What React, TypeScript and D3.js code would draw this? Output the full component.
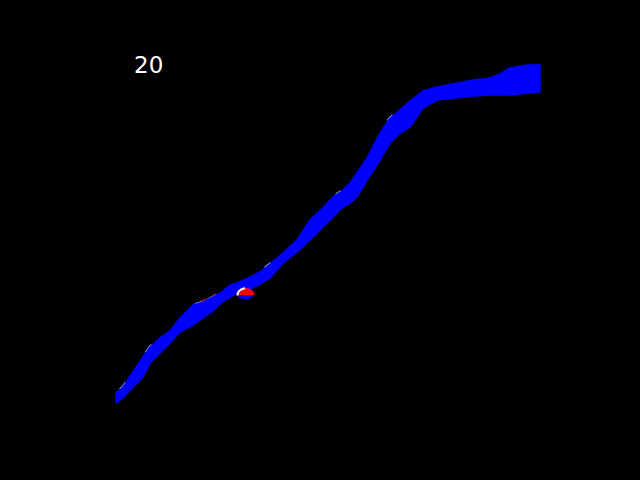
import React, { useEffect, useRef } from "react";
import * as d3 from "d3";

// Horizontal position along the band (data units)
const xs = [0, 7, 17, 27, 34, 44, 54, 64, 77, 87, 97, 106, 114, 124, 134, 144, 154, 167, 181, 194, 207, 217, 227, 234, 241, 251, 264, 274, 284, 294, 307, 321, 331, 347, 357, 374, 384, 394, 411, 424];
// Upper edge of the band
const upper = [10, 16, 31, 46, 56, 65, 72, 85, 98, 101, 106, 111, 118, 121, 126, 131, 139, 150, 163, 183, 195, 206, 213, 220, 230, 245, 270, 285, 293, 302, 312, 316, 318, 321, 323, 325, 329, 335, 338, 338];
// Lower edge of the band
const lower = [0, 5, 16, 26, 40, 50, 60, 71, 78, 85, 92, 101, 106, 112, 114, 119, 125, 140, 151, 163, 176, 186, 196, 200, 206, 223, 243, 260, 270, 276, 295, 303, 304, 306, 307, 308, 308, 308, 310, 311];

// Light highlights along the upper edge (x ranges)
const whiteSpans: [number, number][] = [[4, 10], [30, 36], [79, 87], [92, 101], [149, 155], [220, 225], [272, 277]];
const redSpans: [number, number][] = [[86, 91], [97, 100]];

// Small detached blob under the band
const blobX = [130];
const blobY = [110];

const labels = ["20"];

export default function App() {
  const ref = useRef<SVGSVGElement>(null);
  useEffect(() => {
    const svg = d3.select(ref.current);
    svg.selectAll("*").remove();
    const x = d3.scaleLinear().domain([0, 424]).range([116, 540]);
    const y = d3.scaleLinear().domain([0, 338]).range([403, 65]);

    svg.append("rect").attr("width", 640).attr("height", 480).attr("fill", "#000");

    const data = xs.map((v, i) => ({ x: v, u: upper[i], l: lower[i] }));
    const area = d3
      .area<{ x: number; u: number; l: number }>()
      .x((d) => x(d.x))
      .y0((d) => y(d.l))
      .y1((d) => y(d.u));

    const upAt = d3.scaleLinear().domain(xs).range(upper);
    const spanLine = d3
      .line<number>()
      .x((v) => x(v))
      .y((v) => y(upAt(v)));
    const sample = (a: number, b: number) => d3.range(a, b + 0.01, 0.5);

    whiteSpans.forEach(([a, b]) => {
      svg
        .append("path")
        .attr("d", spanLine(sample(a, b)))
        .attr("fill", "none")
        .attr("stroke", "#dde0ff")
        .attr("stroke-width", 2.5);
    });
    redSpans.forEach(([a, b]) => {
      svg
        .append("path")
        .attr("d", spanLine(sample(a, b)))
        .attr("fill", "none")
        .attr("stroke", "#ff2020")
        .attr("stroke-width", 2.5)
        .attr("transform", "translate(0,-0.5)");
    });

    svg
      .append("path")
      .attr("d", area(data))
      .attr("fill", "#0000ff")
      .attr("stroke", "#0000ff")
      .attr("stroke-width", 1.5)
      .attr("stroke-linejoin", "round");

    // blob
    blobX.forEach((bx, i) => {
      const cx = x(bx);
      const cy = y(blobY[i]);
      svg
        .append("ellipse")
        .attr("cx", cx - 0.5)
        .attr("cy", cy + 1)
        .attr("rx", 8)
        .attr("ry", 5.5)
        .attr("fill", "#0000ff");
      svg
        .append("path")
        .attr("d", `M${cx - 8.5},${cy + 2} A8.5,7 0 0 1 ${cx + 8.5},${cy + 2} Z`)
        .attr("fill", "#ff0000");
      svg
        .append("path")
        .attr("d", `M${cx - 8.5},${cy + 2.5} A8.5,7 0 0 1 ${cx - 1},${cy - 4.8}`)
        .attr("fill", "none")
        .attr("stroke", "#ffffff")
        .attr("stroke-width", 2);
    });

    svg
      .selectAll("text.lbl")
      .data(labels)
      .enter()
      .append("text")
      .attr("class", "lbl")
      .attr("x", 134)
      .attr("y", 73)
      .attr("fill", "#ffffff")
      .attr("font-family", "DejaVu Sans")
      .attr("font-size", 23)
      .text((d) => d);
  }, []);

  return (
    <svg
      ref={ref}
      width={640}
      height={480}
      style={{ position: "fixed", left: 0, top: 0, display: "block" }}
    />
  );
}
